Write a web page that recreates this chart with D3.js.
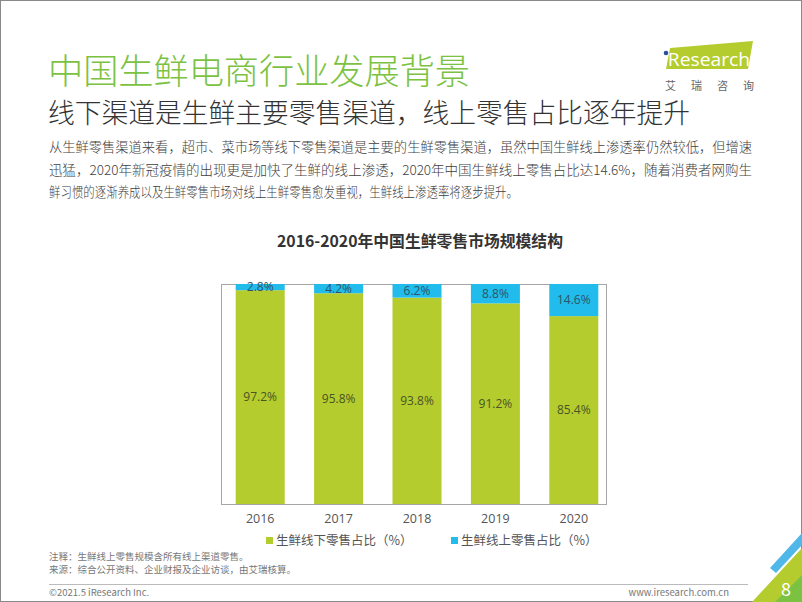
<!DOCTYPE html>
<html>
<head>
<meta charset="utf-8">
<script src="https://cdn.jsdelivr.net/npm/d3@7"></script>
<style>
  body { margin: 0; background: #fff; }
  svg { display: block; font-family: "Noto Sans CJK SC", "Noto Sans", sans-serif; }
</style>
</head>
<body>
<div id="chart"></div>
<script>
// 2016-2020 China fresh-food retail: offline vs online share (%)
const years = ['2016', '2017', '2018', '2019', '2020'];
const offlineShare = [97.2, 95.8, 93.8, 91.2, 85.4];
const onlineShare = [2.8, 4.2, 6.2, 8.8, 14.6];
const seriesNames = ['生鲜线下零售占比（%）', '生鲜线上零售占比（%）'];
const colors = ['#b4cc2e', '#21bceb'];

const bodyLines = [
  '从生鲜零售渠道来看，超市、菜市场等线下零售渠道是主要的生鲜零售渠道，虽然中国生鲜线上渗透率仍然较低，但增速',
  '迅猛，2020年新冠疫情的出现更是加快了生鲜的线上渗透，2020年中国生鲜线上零售占比达14.6%，随着消费者网购生',
  '鲜习惯的逐渐养成以及生鲜零售市场对线上生鲜零售愈发重视，生鲜线上渗透率将逐步提升。'
];
const notes = ['注释：生鲜线上零售规模含所有线上渠道零售。', '来源：综合公开资料、企业财报及企业访谈，由艾瑞核算。'];

const W = 802, H = 602;
const svg = d3.select('#chart').append('svg').attr('width', W).attr('height', H);

// page frame + headings
svg.append('rect').attr('x', 0.5).attr('y', 0.5).attr('width', W - 1).attr('height', H - 1)
  .attr('fill', 'none').attr('stroke', '#8a8a8a');

svg.append('text').attr('x', 48).attr('y', 84).attr('font-size', 35).attr('font-weight', 300)
  .attr('fill', '#7cc242').attr('textLength', 422).attr('lengthAdjust', 'spacingAndGlyphs')
  .text('中国生鲜电商行业发展背景');
svg.append('text').attr('x', 48).attr('y', 123).attr('font-size', 27).attr('font-weight', 300)
  .attr('fill', '#333').attr('textLength', 642).attr('lengthAdjust', 'spacingAndGlyphs')
  .text('线下渠道是生鲜主要零售渠道，线上零售占比逐年提升');

const bodyWidths = [703, 703, 469];
svg.selectAll('.body').data(bodyLines).enter().append('text')
  .attr('x', 49).attr('y', (d, i) => 152 + i * 22.5)
  .attr('font-size', 13.5).attr('font-weight', 300).attr('fill', '#404040')
  .attr('textLength', (d, i) => bodyWidths[i]).attr('lengthAdjust', 'spacingAndGlyphs')
  .text(d => d);

// logo
const logo = svg.append('g');
logo.append('path').attr('d', 'M670,48 L753,41 L748,69 L666,69 Z').attr('fill', '#b4cc2e');
logo.append('circle').attr('cx', 666).attr('cy', 53).attr('r', 2.3).attr('fill', '#2a4ea0');
logo.append('text').attr('x', 663).attr('y', 66).attr('font-size', 18).attr('fill', '#fff')
  .attr('font-family', 'Open Sans, sans-serif').attr('textLength', 87).attr('lengthAdjust', 'spacingAndGlyphs')
  .text('ıResearch');
logo.append('text').attr('x', 665).attr('y', 90).attr('font-size', 11).attr('fill', '#666')
  .attr('letter-spacing', 15).text('艾瑞咨询');

// chart
svg.append('text').attr('x', 420).attr('y', 247).attr('text-anchor', 'middle')
  .attr('font-size', 16).attr('font-weight', 700).attr('fill', '#333')
  .attr('textLength', 286).attr('lengthAdjust', 'spacingAndGlyphs')
  .text('2016-2020年中国生鲜零售市场规模结构');

const plot = { left: 221, right: 606, top: 284, bottom: 504 };
const x = d3.scaleBand().domain(years).range([221, 613]).paddingInner(0.375).paddingOuter(0.1875);
const y = d3.scaleLinear().domain([0, 100]).range([plot.bottom, plot.top]);

svg.append('rect').attr('x', plot.left + 0.5).attr('y', plot.top + 0.5)
  .attr('width', plot.right - plot.left).attr('height', plot.bottom - plot.top)
  .attr('fill', 'none').attr('stroke', '#a6a6a6');

const rows = years.map((yr, i) => ({ year: yr, offline: offlineShare[i], online: onlineShare[i] }));
const stack = d3.stack().keys(['offline', 'online'])(rows);

const layers = svg.selectAll('.layer').data(stack).enter().append('g').attr('fill', (d, i) => colors[i]);
layers.selectAll('rect').data(d => d).enter().append('rect')
  .attr('x', d => x(d.data.year)).attr('width', x.bandwidth())
  .attr('y', d => y(d[1])).attr('height', d => y(d[0]) - y(d[1]));

stack.forEach((layer, k) => {
  svg.selectAll('.lbl' + k).data(layer).enter().append('text')
    .attr('x', d => x(d.data.year) + x.bandwidth() / 2)
    .attr('y', d => (y(d[0]) + y(d[1])) / 2)
    .attr('dy', '0.36em').attr('text-anchor', 'middle')
    .attr('font-size', 12).attr('fill', k === 0 ? '#4a5426' : '#2c5566')
    .attr('font-family', 'Open Sans, sans-serif')
    .text(d => (k === 0 ? d.data.offline : d.data.online).toFixed(1) + '%');
});

const xAxis = svg.append('g').attr('transform', `translate(0,${plot.bottom})`)
  .call(d3.axisBottom(x).tickSize(0).tickPadding(10));
xAxis.select('.domain').remove();
xAxis.selectAll('text').attr('font-size', 12.5).attr('fill', '#555')
  .attr('font-family', 'Open Sans, sans-serif');

// legend
const legendX = [266, 451];
const lg = svg.selectAll('.lg').data(seriesNames).enter().append('g')
  .attr('transform', (d, i) => `translate(${legendX[i]},541)`);
lg.append('rect').attr('x', 0).attr('y', -4).attr('width', 7).attr('height', 7).attr('fill', (d, i) => colors[i]);
lg.append('text').attr('x', 10).attr('y', 0).attr('dy', '0.35em').attr('font-size', 12.5)
  .attr('fill', '#555').text(d => d);

// notes + footer
svg.selectAll('.note').data(notes).enter().append('text')
  .attr('x', 49).attr('y', (d, i) => 560 + i * 13).attr('font-size', 9.5).attr('fill', '#777')
  .text(d => d);
svg.append('line').attr('x1', 49).attr('x2', 748).attr('y1', 584.5).attr('y2', 584.5)
  .attr('stroke', '#bbb');
svg.append('text').attr('x', 49).attr('y', 596).attr('font-size', 9.5).attr('fill', '#777')
  .text('©2021.5 iResearch Inc.');
svg.append('text').attr('x', 729).attr('y', 596).attr('text-anchor', 'end').attr('font-size', 9.5)
  .attr('fill', '#777').text('www.iresearch.com.cn');

// corner decoration
const corner = svg.append('g');
corner.append('path').attr('d', `M752,${H} L${W},548 L${W},${H} Z`).attr('fill', '#b4cc2e');
corner.append('path').attr('d', `M775,${H} L${W},575 L${W},${H} Z`).attr('fill', '#7cc242');
corner.append('path').attr('d', `M770,568 L${W},533 L${W},545 L776,573 Z`).attr('fill', '#4fb8e8');
corner.append('text').attr('x', 786).attr('y', 596).attr('text-anchor', 'middle')
  .attr('font-size', 18).attr('fill', '#fff').text('8');
</script>
</body>
</html>
